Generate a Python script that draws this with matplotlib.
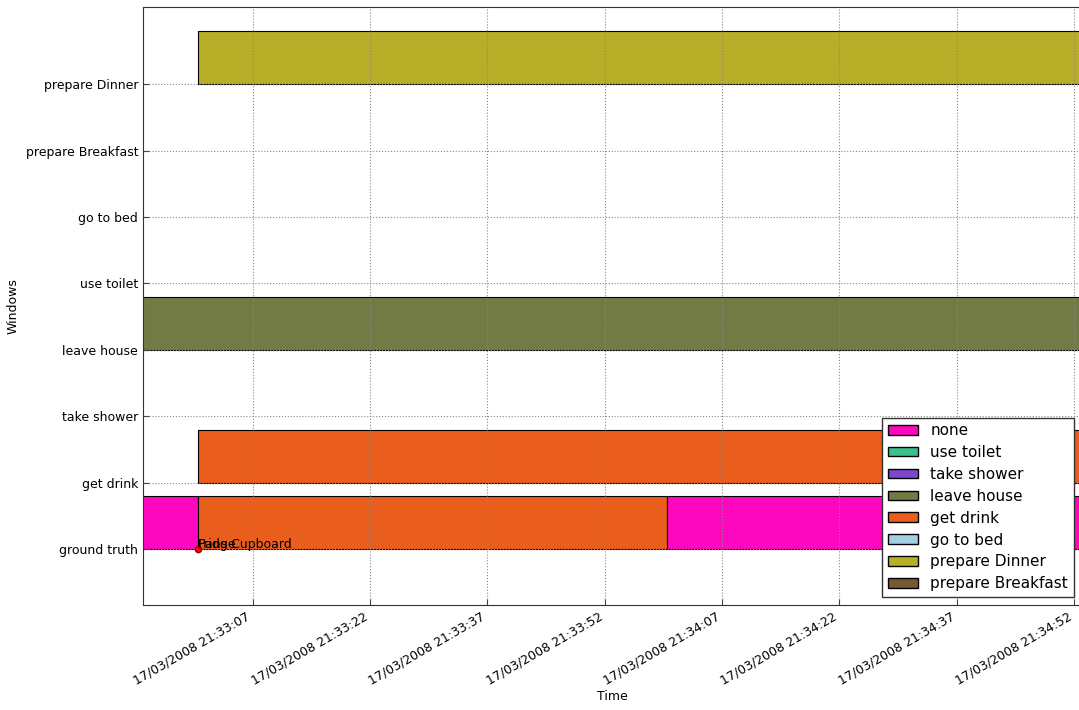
import datetime as dt

import matplotlib
matplotlib.use("Agg")
import matplotlib.dates as mdates
import matplotlib.pyplot as plt
from matplotlib.patches import Patch

# rows on the y axis, bottom to top
WINDOWS = ["ground truth", "get drink", "take shower", "leave house",
           "use toilet", "go to bed", "prepare Breakfast", "prepare Dinner"]

ACTIVITIES = ["none", "use toilet", "take shower", "leave house",
              "get drink", "go to bed", "prepare Dinner", "prepare Breakfast"]
COLORS = ["#fd08be", "#3cbf8b", "#7b48cc", "#737b45",
          "#e95d1d", "#a6cee3", "#b8ae27", "#735a31"]

T0 = dt.datetime(2008, 3, 17, 21, 32, 53)
T1 = dt.datetime(2008, 3, 17, 21, 34, 53)

# (row, start, end, activity)
SEGMENTS = [
    ("ground truth", "21:32:50", "21:33:00", "none"),
    ("ground truth", "21:33:00", "21:34:00", "get drink"),
    ("ground truth", "21:34:00", "21:35:00", "none"),
    ("get drink", "21:33:00", "21:35:00", "get drink"),
    ("leave house", "21:32:50", "21:35:00", "leave house"),
    ("prepare Dinner", "21:33:00", "21:35:00", "prepare Dinner"),
]

SENSOR_TIME = "21:33:00"
SENSORS = ["Fridge", "Pans Cupboard"]


def to_time(s):
    h, m, sec = map(int, s.split(":"))
    return dt.datetime(2008, 3, 17, h, m, sec)


def main():
    plt.rcParams["font.family"] = "DejaVu Sans"
    fig = plt.figure(figsize=(10.79, 7.10), dpi=100)
    ax = fig.add_axes([143 / 1079, 105 / 710, 939 / 1079, 598 / 710])

    cmap = dict(zip(ACTIVITIES, COLORS))
    for row, start, end, act in SEGMENTS:
        y = WINDOWS.index(row)
        s = mdates.date2num(to_time(start))
        e = mdates.date2num(to_time(end))
        ax.broken_barh([(s, e - s)], (y, 0.8), facecolors=cmap[act],
                       edgecolors="black", linewidth=0.8)

    st = to_time(SENSOR_TIME)
    ax.plot([st], [0], "o", color="red", markersize=4.5, markeredgecolor="darkred")
    for name in SENSORS:
        ax.text(st, 0.02, name, fontsize=9, va="baseline", ha="left")

    ax.set_xlim(T0, T1)
    ax.set_ylim(-0.84, 8.16)
    ax.set_yticks(range(len(WINDOWS)))
    ax.set_yticklabels(WINDOWS, fontsize=9)
    ax.xaxis.set_major_locator(mdates.SecondLocator(bysecond=[7, 22, 37, 52]))
    ax.xaxis.set_major_formatter(mdates.DateFormatter("%d/%m/%Y %H:%M:%S"))
    for lbl in ax.get_xticklabels():
        lbl.set_rotation(30)
        lbl.set_ha("right")
        lbl.set_fontsize(9)
    ax.tick_params(direction="in", length=4, color="#444444")
    ax.grid(True, linestyle=":", color="#888888", linewidth=0.8)
    for sp in ax.spines.values():
        sp.set_color("#333333")

    ax.set_xlabel("Time", fontsize=9, labelpad=2)
    ax.set_ylabel("Windows", fontsize=9)

    handles = [Patch(facecolor=c, edgecolor="black", label=a)
               for a, c in zip(ACTIVITIES, COLORS)]
    leg = ax.legend(handles=handles, loc="lower right", fontsize=11,
                    fancybox=False, framealpha=1, borderaxespad=0.55,
                    handlelength=2.0, handleheight=0.6, labelspacing=0.45,
                    handletextpad=0.8, borderpad=0.35)
    leg.get_frame().set_edgecolor("#333333")

    fig.savefig("out.png", dpi=100)


if __name__ == "__main__":
    main()
